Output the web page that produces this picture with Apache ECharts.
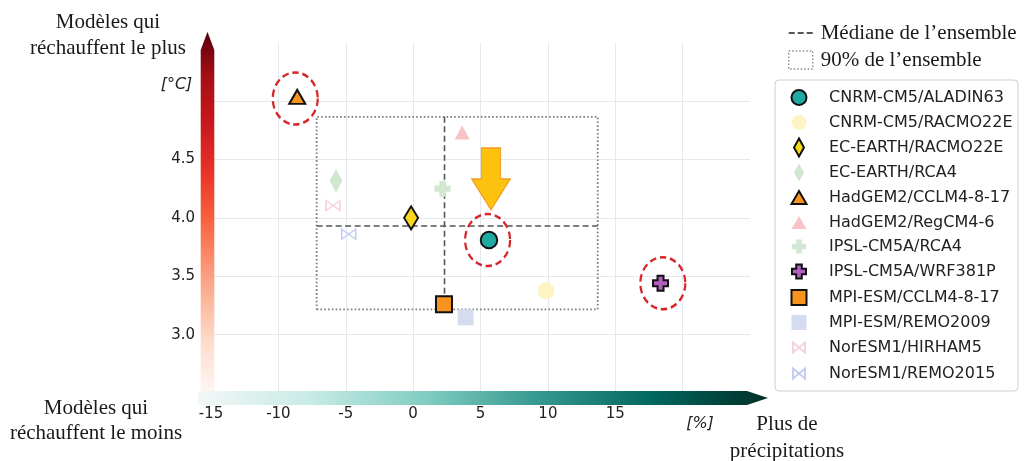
<!DOCTYPE html>
<html><head><meta charset="utf-8">
<script src="https://cdn.jsdelivr.net/npm/echarts@6/dist/echarts.min.js"></script>
<style>html,body{margin:0;padding:0;background:#fff}#c{width:1024px;height:461px}</style>
</head><body><div id="c"></div>
<script>
// ---- data ----
const models = [
  'CNRM-CM5/ALADIN63','CNRM-CM5/RACMO22E','EC-EARTH/RACMO22E','EC-EARTH/RCA4',
  'HadGEM2/CCLM4-8-17','HadGEM2/RegCM4-6','IPSL-CM5A/RCA4','IPSL-CM5A/WRF381P',
  'MPI-ESM/CCLM4-8-17','MPI-ESM/REMO2009','NorESM1/HIRHAM5','NorESM1/REMO2015'
];
const precipChange = [5.63, 9.87, -0.15, -5.72, -8.6, 3.64, 2.18, 18.36, 2.29, 3.9, -5.95, -4.78];
const tempChange   = [3.81, 3.375, 4.00, 4.317, 5.036, 4.73, 4.25, 3.44, 3.26, 3.148, 4.106, 3.86];
const highlighted = ['CNRM-CM5/ALADIN63', 'HadGEM2/CCLM4-8-17', 'IPSL-CM5A/WRF381P'];
const arrowTarget = 'CNRM-CM5/ALADIN63';
const medianPrecip = 2.33;
const medianTemp = 3.93;
const range90Precip = [-7.16, 13.70];
const range90Temp = [3.216, 4.865];
const xTickLabels = [-15, -10, -5, 0, 5, 10, 15];
const yTickLabels = [3.0, 3.5, 4.0, 4.5];
const medianName = 'Médiane de l’ensemble';
const rangeName = '90% de l’ensemble';

// ---- styles ----
const PAD = 'M0,0L0,0M20,18L20,18';
const PLUS = 'path://M3,0H7V3H10V7H7V10H3V7H0V3H3Z';
const DIAM = 'path://M5,0L10,9L5,18L0,9Z';
const BOWTIE = 'path://' + PAD + 'M4,4L10,9L4,14ZM16,4L10,9L16,14Z';
const ARROW = 'path://M9.5,0H28.5V31H38L19,62L0,31H9.5Z';
const L_TRI = 'path://' + PAD + 'M10,2.5L17.5,15.5H2.5Z';
const L_CIRC = 'path://' + PAD + 'M10,1.5A7.5,7.5,0,1,1,9.99,1.5Z';
const L_RECT = 'path://' + PAD + 'M2.5,1.5H17.5V16.5H2.5Z';
const L_PLUS = 'path://' + PAD + 'M7.2,2H12.8V6.2H17V11.8H12.8V16H7.2V11.8H3V6.2H7.2Z';
const styles = [
  {symbol:'circle', size:16.5, color:'#1fa9a1', border:true, legend:L_CIRC},
  {symbol:'circle', size:17, color:'#fdf4c4', legend:L_CIRC},
  {symbol:DIAM, size:[14,23], color:'#f9d71c', border:true, legend:DIAM},
  {symbol:DIAM, size:[13,23], color:'#cfe6cf', legend:DIAM},
  {symbol:'triangle', size:[16,14], color:'#f7941d', border:true, legend:L_TRI},
  {symbol:'triangle', size:[15,14], color:'#f7c3c7', legend:L_TRI},
  {symbol:PLUS, size:[16,16], color:'#d2e8d2', legend:L_PLUS},
  {symbol:PLUS, size:[15,15], color:'#b35fc0', border:true, legend:L_PLUS},
  {symbol:'rect', size:[16,16], color:'#f7941d', border:true, legend:L_RECT},
  {symbol:'rect', size:[16,16], color:'#d4ddef', legend:L_RECT},
  {symbol:BOWTIE, size:[23.3,18], color:'rgba(0,0,0,0)', stroke:'#f5d3dd', legend:BOWTIE},
  {symbol:BOWTIE, size:[23.3,18], color:'rgba(0,0,0,0)', stroke:'#c3cff0', legend:BOWTIE}
];

const ellipseStyle = {color:'rgba(0,0,0,0)', borderColor:'#d7262b', borderWidth:2.4, borderType:[7,4]};
const ellipseOffsets = {
  'CNRM-CM5/ALADIN63':[-1.4,0], 'HadGEM2/CCLM4-8-17':[-2,1.6], 'IPSL-CM5A/WRF381P':[2.3,0]
};

const scatterSeries = models.map((m, i) => {
  const st = styles[i];
  const pt = [precipChange[i], tempChange[i]];
  const s = {
    type:'scatter', name:m, data:[pt],
    symbol:st.symbol, symbolSize:st.size,
    itemStyle:{
      color:st.color,
      borderColor: st.border ? '#111' : (st.stroke || st.color),
      borderWidth: st.border ? 2 : (st.stroke ? 1.4 : 0),
      opacity:1
    },
    z: st.border ? 5 : 3,
    emphasis:{disabled:true}, silent:true
  };
  if (highlighted.includes(m)) {
    const md = [{coord:pt, symbol:'circle', symbolSize:[45,52], symbolOffset:ellipseOffsets[m], itemStyle:ellipseStyle}];
    if (m === arrowTarget) {
      md.push({coord:pt, symbol:ARROW, symbolSize:[38.5,62], symbolOffset:[2,-61],
        itemStyle:{color:'#fdc10f', borderColor:'#f29a1c', borderWidth:1.2}});
    }
    s.markPoint = {silent:true, label:{show:false}, animation:false, data:md};
  }
  return s;
});

const [x0, x1] = range90Precip;
const [y0, y1] = range90Temp;
const lineSeries = [
  {type:'line', name:rangeName, data:[[x0,y0],[x1,y0],[x1,y1],[x0,y1],[x0,y0]],
   symbol:'none', silent:true, z:2, itemStyle:{color:'#7a7a7a'},
   lineStyle:{color:'#7a7a7a', width:1.8, type:[1.6,2.2]}},
  {type:'line', name:medianName, data:[[x0,medianTemp],[x1,medianTemp]],
   symbol:'none', silent:true, z:2, itemStyle:{color:'#555'},
   lineStyle:{color:'#555', width:1.6, type:[6,3.5]}},
  {type:'line', name:medianName, data:[[medianPrecip,y1],[medianPrecip,y0]],
   symbol:'none', silent:true, z:2, itemStyle:{color:'#555'},
   lineStyle:{color:'#555', width:1.6, type:[6,3.5]}}
];

const chart = echarts.init(document.getElementById('c'), null, {renderer:'canvas'});
const serif = '"Liberation Serif", "Times New Roman", serif';
const sans = '"DejaVu Sans", sans-serif';

chart.setOption({
  animation:false,
  backgroundColor:'#fff',
  grid:{left:211, right:274, top:42.7, bottom:68, containLabel:false, outerBoundsMode:'none'},
  xAxis:{
    type:'value', min:-15, max:25, interval:5,
    axisLine:{show:false}, axisTick:{show:false},
    axisLabel:{margin:14, fontFamily:sans, fontSize:15, color:'#222',
      formatter:v => xTickLabels.includes(v) ? String(v) : ''},
    splitLine:{show:true, showMaxLine:false, lineStyle:{color:'#e3e9ec', width:1}}
  },
  yAxis:{
    type:'value', min:2.5, max:5.5, interval:0.5,
    axisLine:{show:false}, axisTick:{show:false},
    axisLabel:{margin:16, fontFamily:sans, fontSize:15, color:'#222',
      formatter:v => yTickLabels.some(t => Math.abs(t - v) < 1e-9) ? v.toFixed(1) : ''},
    splitLine:{show:true, showMaxLine:false, lineStyle:{color:'#e3e9ec', width:1}}
  },
  legend:[
    {
      orient:'vertical', left:788, top:22.5, padding:0, itemGap:6,
      itemWidth:24, itemHeight:18, selectedMode:false,
      textStyle:{fontFamily:serif, fontSize:21, color:'#1a1a1a', padding:[0,0,0,3]},
      data:[
        {name:medianName, icon:'path://M0,0H6V2H0ZM9,0H15V2H9ZM18,0H24V2H18Z', itemStyle:{color:'#555'}},
        {name:rangeName, icon:'rect', itemStyle:{color:'rgba(0,0,0,0)', borderColor:'#8a8a8a', borderWidth:1.4, borderType:[1.5,2]}}
      ]
    },
    {
      orient:'vertical', left:775, top:80, padding:[7.5,5.5,7.5,13], itemGap:6,
      itemWidth:20, itemHeight:18, selectedMode:false,
      borderColor:'#d0d0d0', borderWidth:1, borderRadius:4, backgroundColor:'#fff',
      textStyle:{fontFamily:sans, fontSize:16, color:'#222', padding:[0,0,0,15]},
      data:models.map((m, i) => ({name:m, icon:styles[i].legend}))
    }
  ],
  graphic:[
    {type:'polygon', z:10, silent:true,
     shape:{points:[[200.7,50],[207.5,31.7],[214.3,50],[214.3,391],[200.7,391]]},
     style:{fill:new echarts.graphic.LinearGradient(0,0,0,1,[
       {offset:0,color:'#5a000c'},{offset:0.125,color:'#a50f15'},{offset:0.25,color:'#c8171c'},
       {offset:0.4,color:'#ea3528'},{offset:0.52,color:'#f8613f'},{offset:0.64,color:'#fc9070'},
       {offset:0.76,color:'#fcbba1'},{offset:0.88,color:'#fee0d2'},{offset:1,color:'#fff5f0'}])}},
    {type:'polygon', z:10, silent:true,
     shape:{points:[[198,391],[747,391],[768,398],[747,405],[198,405]]},
     style:{fill:new echarts.graphic.LinearGradient(0,0,1,0,[
       {offset:0,color:'#f3f8f7'},{offset:0.2,color:'#c7eae5'},{offset:0.4,color:'#80cdc1'},
       {offset:0.6,color:'#35978f'},{offset:0.8,color:'#01665e'},{offset:1,color:'#003026'}])}},
    {type:'text', x:108, y:35, z:10, silent:true,
     style:{text:'Modèles qui\nréchauffent le plus', font:'21px '+serif, fill:'#1a1a1a',
       align:'center', verticalAlign:'middle', lineHeight:26}},
    {type:'text', x:96, y:420.5, z:10, silent:true,
     style:{text:'Modèles qui\nréchauffent le moins', font:'21px '+serif, fill:'#1a1a1a',
       align:'center', verticalAlign:'middle', lineHeight:25}},
    {type:'text', x:787, y:437.5, z:10, silent:true,
     style:{text:'Plus de\nprécipitations', font:'21px '+serif, fill:'#1a1a1a',
       align:'center', verticalAlign:'middle', lineHeight:27}},
    {type:'text', x:176.5, y:85, z:10, silent:true,
     style:{text:'[°C]', font:'italic 16px '+sans, fill:'#222', align:'center', verticalAlign:'middle'}},
    {type:'text', x:700, y:424, z:10, silent:true,
     style:{text:'[%]', font:'italic 16px '+sans, fill:'#222', align:'center', verticalAlign:'middle'}}
  ],
  series: lineSeries.concat(scatterSeries)
});
</script>
</body></html>
